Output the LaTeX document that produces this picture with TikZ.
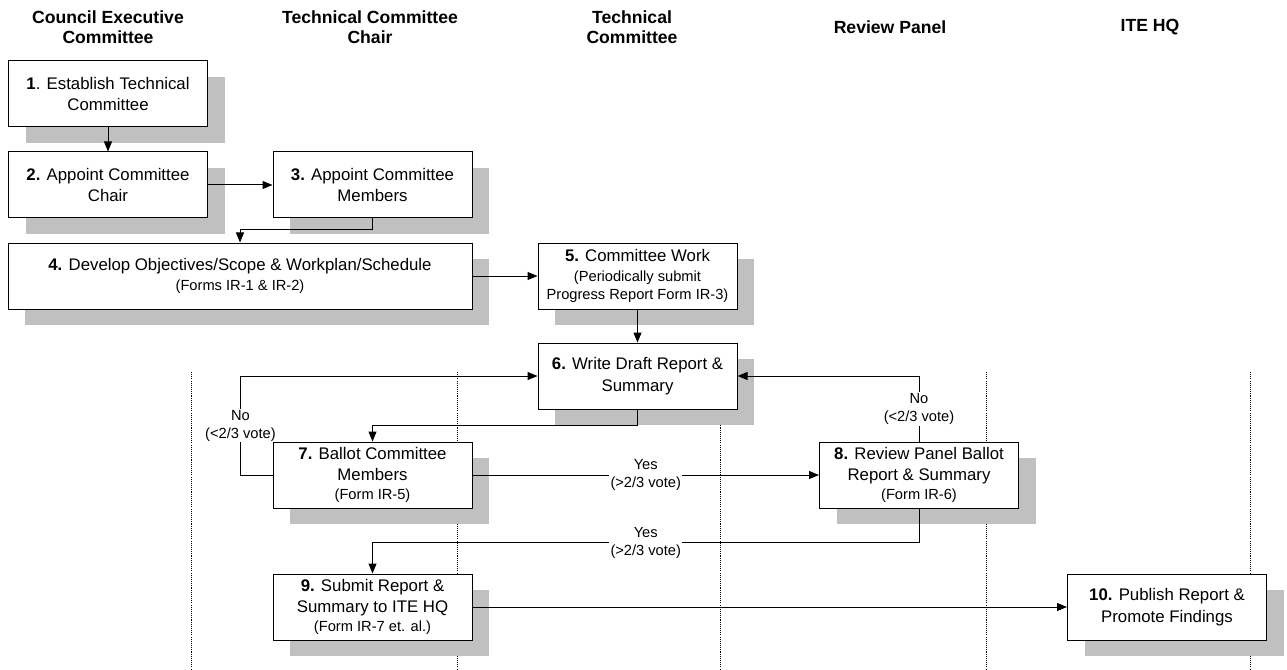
\documentclass[tikz,border=0pt]{standalone}
\usepackage{fontspec}
\setmainfont{Liberation Sans}
\usepackage{tikz}
\usetikzlibrary{positioning}
\usetikzlibrary{arrows.meta}
\usetikzlibrary{shadows}
\definecolor{shadowgray}{RGB}{192,192,192}
\newcommand{\stepfont}{\fontsize{12.6}{16}\selectfont}
\newcommand{\notefont}{\fontsize{11}{13.5}\selectfont}
\newcommand{\lanefont}{\fontsize{13.2}{15}\selectfont\bfseries}

\begin{document}
\begin{tikzpicture}[x=0.75pt,y=-0.75pt,
	stepbox/.style={draw, line width=0.75pt, fill=white, minimum width=149.25pt, minimum height=49.5pt, inner sep=1pt, align=center, font=\stepfont,
		drop shadow={shadow xshift=12.75pt, shadow yshift=-12pt, fill=shadowgray, opacity=1}},
	widebox/.style={stepbox, minimum width=348pt},
	flow/.style={line width=0.75pt, -{Triangle[length=7.5pt,width=6pt]}},
	votelabel/.style={fill=white, inner sep=1pt, align=center, font=\notefont},
	lanehead/.style={align=center, font=\lanefont}]
	\useasboundingbox (0,0) rectangle (1287,670);

	% swimlane headers and separators
	\node [lanehead] at (108,27) (hCEC) {Council Executive\\Committee};
	\node [lanehead] at (370,27) (hTCC) {Technical Committee\\Chair};
	\node [lanehead] at (632,27) (hTC) {Technical\\Committee};
	\node [lanehead] at (890,27) (hRP) {Review Panel};
	\node [lanehead] at (1150,27) (hITE) {ITE HQ};
	\foreach \lx in {191,457,720,986,1250} \draw [line width=0.6pt, dash pattern=on 0.8pt off 0.8pt] (\lx,372) -- (\lx,670);

	% steps
	\node [stepbox] at (108,94) (1est) {\textbf{1}. Establish Technical\\Committee};
	\node [stepbox] at (108,185) (2chair) {\textbf{2.} Appoint Committee\\Chair};
	\node [stepbox] at (372.5,185) (3memb) {\textbf{3.} Appoint Committee\\Members};
	\node [widebox] at (240,276) (4plan) {\textbf{4.} Develop Objectives/Scope \& Workplan/Schedule\\[-1.5pt]{\notefont (Forms IR-1 \& IR-2)}};
	\node [stepbox] at (637.5,276) (5work) {\textbf{5.} Committee Work\\[-1.5pt]{\notefont (Periodically submit}\\[-2.5pt]{\notefont Progress Report Form IR-3)}};
	\node [stepbox] at (637.5,376) (6draft) {\textbf{6.} Write Draft Report \&\\Summary};
	\node [stepbox] at (372.5,475) (7ballot) {\textbf{7.} Ballot Committee\\Members\\[-1.5pt]{\notefont (Form IR-5)}};
	\node [stepbox] at (919,475) (8review) {\textbf{8.} Review Panel Ballot\\Report \& Summary\\[-1.5pt]{\notefont (Form IR-6)}};
	\node [stepbox] at (372.5,607) (9submit) {\textbf{9.} Submit Report \&\\Summary to ITE HQ\\[-1.5pt]{\notefont (Form IR-7 et. al.)}};
	\node [stepbox] at (1167,607) (10publish) {\textbf{10.} Publish Report \&\\Promote Findings};

	% flow
	\draw [flow] (1est) -- (2chair); \draw [flow] (2chair) -- (3memb);
	\draw [flow] (3memb.south) -- ++(0,11) -| (4plan.north);
	\draw [flow] (4plan) -- (5work); \draw [flow] (5work) -- (6draft);
	\draw [flow] (6draft.south) -- ++(0,16) -| (7ballot.north);
	\draw [flow] (7ballot.west) -- ++(-32,0) |- node [votelabel, pos=0.25] (7no) {No\\(<2/3 vote)} (6draft.west);
	\draw [flow] (7ballot) -- node [votelabel] (7yes) {Yes\\(>2/3 vote)} (8review);
	\draw [flow] (8review.north) |- node [votelabel, pos=0.25] (8no) {No\\(<2/3 vote)} (6draft.east);
	\draw [flow] (8review.south) -- ++(0,34) -| node [votelabel, pos=0.25] (8yes) {Yes\\(>2/3 vote)} (9submit.north);
	\draw [flow] (9submit) -- (10publish);
\end{tikzpicture}
\end{document}
